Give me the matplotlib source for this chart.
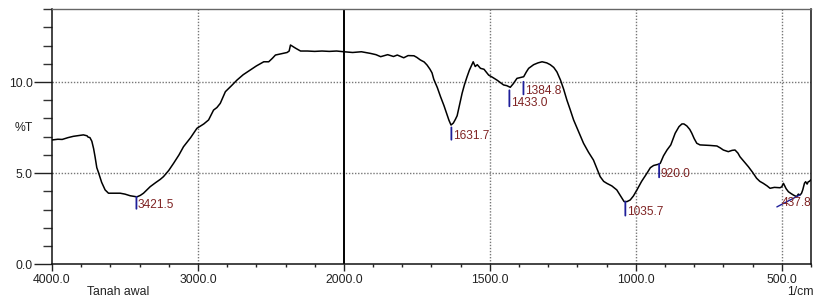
import numpy as np
import matplotlib
matplotlib.use("Agg")
import matplotlib.pyplot as plt

plt.rcParams['font.family'] = ['Liberation Sans', 'DejaVu Sans']

# ---- data ----
wavenumber = [4000, 3960, 3930, 3890, 3854, 3820, 3785, 3760, 3753, 3740, 3727, 3715, 3705, 3693,
              3682, 3660, 3636, 3613, 3570, 3533, 3500, 3464, 3440, 3418, 3395, 3373, 3350, 3327,
              3290, 3258, 3236, 3200, 3167, 3130, 3099, 3050, 3007, 2960, 2927, 2893, 2870, 2847,
              2812, 2770, 2732, 2690, 2641, 2600, 2549, 2515, 2490, 2469, 2430, 2389, 2375, 2366,
              2330, 2297, 2250, 2200, 2150, 2100, 2050, 2000, 1970, 1940, 1909, 1890, 1874, 1850,
              1830, 1817, 1795, 1780, 1760, 1750, 1738, 1725, 1715, 1705, 1698, 1692, 1680, 1669,
              1657, 1646, 1640, 1633, 1625, 1618, 1612, 1603, 1595, 1587, 1578, 1570, 1563, 1557,
              1550, 1543, 1532, 1520, 1504, 1490, 1475, 1462, 1453, 1442, 1430, 1420, 1407, 1395,
              1384, 1375, 1367, 1350, 1335, 1321, 1305, 1293, 1281, 1270, 1258, 1247, 1236, 1225,
              1213, 1195, 1179, 1162, 1145, 1133, 1122, 1110, 1099, 1082, 1065, 1052, 1040, 1030,
              1019, 1008, 996, 980, 962, 950, 939, 922, 916, 905, 893, 880, 865, 852, 842, 835,
              825, 815, 808, 800, 791, 780, 768, 745, 722, 710, 700, 683, 670, 660, 650, 643, 630,
              614, 600, 586, 575, 563, 550, 540, 525, 506, 500, 494, 485, 477, 468, 460, 449, 443,
              437, 432, 428, 422, 418, 413, 409, 405, 401]
transmittance = [6.82, 6.86, 6.85, 6.95, 7.02, 7.06, 7.10, 7.05, 6.98, 6.95, 6.75, 6.35, 5.90, 5.30,
                 5.05, 4.50, 4.08, 3.90, 3.90, 3.90, 3.85, 3.76, 3.73, 3.70, 3.78, 3.90, 4.08, 4.26,
                 4.48, 4.66, 4.81, 5.15, 5.54, 6.00, 6.45, 6.95, 7.46, 7.70, 7.92, 8.46, 8.60, 8.83,
                 9.47, 9.80, 10.11, 10.40, 10.66, 10.88, 11.11, 11.11, 11.30, 11.48, 11.55, 11.62, 11.70, 12.03,
                 11.85, 11.70, 11.70, 11.68, 11.70, 11.68, 11.70, 11.66, 11.62, 11.66, 11.57, 11.50, 11.39, 11.50,
                 11.40, 11.48, 11.33, 11.45, 11.44, 11.35, 11.21, 11.10, 10.93, 10.70, 10.50, 10.15, 9.70, 9.20,
                 8.70, 8.19, 7.90, 7.64, 7.75, 7.95, 8.15, 8.80, 9.38, 9.85, 10.29, 10.65, 10.90, 11.11,
                 10.85, 10.95, 10.75, 10.70, 10.38, 10.25, 10.10, 9.95, 9.84, 9.80, 9.71, 9.90, 10.20, 10.25,
                 10.29, 10.55, 10.75, 10.95, 11.05, 11.11, 11.05, 10.95, 10.80, 10.55, 10.11, 9.60, 9.01, 8.50,
                 7.92, 7.25, 6.64, 6.15, 5.72, 5.25, 4.81, 4.55, 4.44, 4.30, 4.08, 3.75, 3.44, 3.44,
                 3.53, 3.75, 4.08, 4.55, 4.99, 5.30, 5.42, 5.49, 5.54, 5.95, 6.27, 6.55, 7.19, 7.55, 7.70, 7.70,
                 7.59, 7.40, 7.19, 6.90, 6.64, 6.55, 6.54, 6.52, 6.49, 6.38, 6.27, 6.18, 6.25, 6.27, 6.10, 5.90, 5.65,
                 5.35, 5.05, 4.72, 4.55, 4.44, 4.30, 4.17, 4.22, 4.20, 4.25, 4.44, 4.15, 3.98, 3.88, 3.80, 3.71, 3.85,
                 3.80, 3.90, 4.08, 4.45, 4.53, 4.40, 4.53, 4.55, 4.62]

peak_positions = [3421.5, 1631.7, 1433.0, 1384.8, 1035.7, 920.0]
peak_labels = ["3421.5", "1631.7", "1433.0", "1384.8", "1035.7", "920.0"]
slanted_peak = 437.8
slanted_label = "437.8"

x_major = [4000, 3000, 2000, 1500, 1000, 500]
x_major_labels = ["4000.0", "3000.0", "2000.0", "1500.0", "1000.0", "500.0"]
y_major = [0, 5, 10]
y_major_labels = ["0.0", "5.0", "10.0"]
sample_name = "Tanah awal"
y_title = "%T"
x_unit = "1/cm"

# ---- figure ----
W, H = 814, 297
fig = plt.figure(figsize=(W / 100, H / 100), dpi=100)
ax = fig.add_axes([52 / W, 1 - 264.3 / H, (810.9 - 52) / W, (264.3 - 9.1) / H])


def fwd(x):
    x = np.asarray(x, dtype=float)
    return np.where(x > 2000, 2000 + (x - 2000) / 2.0, x)


def inv(u):
    u = np.asarray(u, dtype=float)
    return np.where(u > 2000, 2000 + (u - 2000) * 2.0, u)


ax.set_xscale('function', functions=(fwd, inv))
ax.set_xlim(4000, 400)
ax.set_ylim(0, 14)

# grid lines
for gx in x_major:
    if gx in (4000, 2000):
        continue
    ax.axvline(gx, color='#777777', lw=1.0, ls=(0, (1, 1.2)), zorder=1)
for gy in (5, 10):
    ax.axhline(gy, color='#777777', lw=1.0, ls=(0, (1, 1.2)), zorder=1)
ax.axvline(2000, color='black', lw=1.4, zorder=2)

# spectrum
ax.plot(wavenumber, transmittance, color='black', lw=1.1, zorder=3)

# peak markers
wn_arr = np.array(wavenumber)[::-1]
t_arr = np.array(transmittance)[::-1]
marker_style = {3421.5: (0, 12), 1631.7: (2.7, 12.3), 1433.0: (3.4, 16), 1384.8: (5, 12.6),
                1035.7: (0, 14), 920.0: (0, 13.4)}
px2pt = 0.72
for p, lab in zip(peak_positions, peak_labels):
    tv = float(np.interp(p, wn_arr, t_arr))
    gap, length = marker_style[p]
    ax.annotate('', xy=(p, tv), xycoords='data',
                xytext=(0, -(gap + length) * px2pt), textcoords='offset points',
                arrowprops=dict(arrowstyle='-', color='#1f1f9a', lw=1.3,
                                shrinkA=0, shrinkB=gap * px2pt), zorder=4)
    ax.annotate(lab, xy=(p, tv), xycoords='data',
                xytext=(1.5 * px2pt, -(gap + length - 0.5) * px2pt), textcoords='offset points',
                ha='left', va='baseline', fontsize=8.6, color='#7f2323', zorder=5)

tv = float(np.interp(slanted_peak, wn_arr, t_arr))
ax.annotate('', xy=(slanted_peak, tv), xycoords='data',
            xytext=(-23 * px2pt, -12 * px2pt), textcoords='offset points',
            arrowprops=dict(arrowstyle='-', color='#1f1f9a', lw=1.0,
                            shrinkA=0, shrinkB=0, relpos=(0, 0)), zorder=4)
ax.annotate(slanted_label, xy=(slanted_peak, tv), xycoords='data',
            xytext=(-18 * px2pt, -11 * px2pt), textcoords='offset points',
            ha='left', va='baseline', fontsize=8.6, color='#7f2323', zorder=5)

# ticks
ax.set_xticks(x_major)
ax.set_xticklabels(x_major_labels)
minor_x = [v for v in list(range(3800, 2000, -200)) + list(range(1900, 399, -100)) if v not in x_major]
ax.set_xticks(minor_x, minor=True)
ax.set_yticks(y_major)
ax.set_yticklabels(y_major_labels)
ax.set_yticks([v for v in range(0, 15) if v not in y_major], minor=True)

ax.tick_params(axis='x', which='major', direction='out', length=5, width=1.0, pad=2,
               labelsize=8.8, colors='#222222')
ax.tick_params(axis='x', which='minor', direction='out', length=2.2, width=1.0, color='#222222')
ax.tick_params(axis='y', which='major', direction='out', length=13, width=1.0, pad=1,
               labelsize=8.8, colors='#222222')
ax.tick_params(axis='y', which='minor', direction='out', length=6.5, width=1.0, color='#333333')

for s in ('left', 'bottom', 'right'):
    ax.spines[s].set_color('#111111')
    ax.spines[s].set_linewidth(1.1)
ax.spines['top'].set_color('#666666')
ax.spines['top'].set_linewidth(1.0)

fig.text(24 / W, 1 - 128 / H, y_title, ha='center', va='center', fontsize=8.8, color='#222222')
fig.text(118 / W, 1 - 292 / H, sample_name, ha='center', va='center', fontsize=8.8, color='#222222')
fig.text(800 / W, 1 - 292 / H, x_unit, ha='center', va='center', fontsize=8.8, color='#222222')

fig.savefig('out.png', dpi=100)
